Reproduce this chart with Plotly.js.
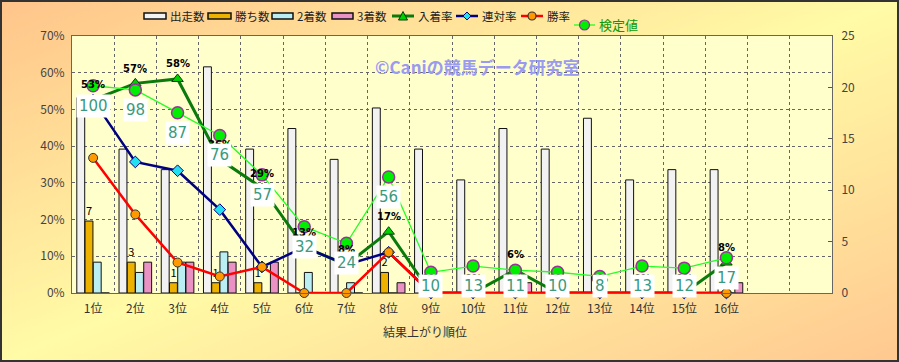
<!DOCTYPE html>
<html>
<head>
<meta charset="utf-8">
<script src="https://cdn.plot.ly/plotly-3.0.1.min.js"></script>
<style>
html,body{margin:0;padding:0;}
body{width:899px;height:362px;overflow:hidden;background:linear-gradient(to bottom right,#FFC48A 0%,#FFFBA6 50%,#FFC890 100%);}
#wrap{position:relative;width:899px;height:362px;}
#chart{position:absolute;left:0;top:0;width:899px;height:362px;}
#frame{position:absolute;left:0;top:0;width:899px;height:362px;box-sizing:border-box;border:2px solid #333;pointer-events:none;}
</style>
</head>
<body>
<div id="wrap"><div id="chart"></div><div id="frame"></div></div>
<script>
// categories
const categories = ['1位','2位','3位','4位','5位','6位','7位','8位','9位','10位','11位','12位','13位','14位','15位','16位'];
const blankCats = [' ', '  '];
// counts
const starts = [19,14,12,22,14,16,13,18,14,11,16,14,17,11,12,12];   // 出走数
const wins   = [7,3,1,1,1,0,0,2,0,0,0,0,0,0,0,0];                  // 勝ち数
const second = [3,2,3,4,0,2,1,0,0,0,0,0,0,0,0,0];                  // 2着数
const third  = [0,3,3,3,3,0,0,1,0,0,1,0,0,0,0,1];                  // 3着数
// rates (%)
const placeRate = [52.6,57.1,58.3,36.4,28.6,12.5,7.7,16.7,0,0,6.3,0,0,0,0,8.3]; // 入着率
const quinRate  = [52.6,35.7,33.3,22.7,7.1,12.5,7.7,11.1,0,0,0,0,0,0,0,0];      // 連対率
const winRate   = [36.8,21.4,8.3,4.5,7.1,0,0,11.1,0,0,0,0,0,0,0,0];             // 勝率
// test values
const testVal = [100,98,87,76,57,32,24,56,10,13,11,10,8,13,12,17];             // 検定値
const placeLabels = ['53%','57%','58%','36%','29%','13%','8%','17%','0%','0%','6%','0%','0%','0%','0%','8%'];
const seriesNames = ['出走数','勝ち数','2着数','3着数','入着率','連対率','勝率','検定値'];

const FONT = 'Noto Sans CJK JP, sans-serif';
const pct = a => a.map(v => v/100);

// plot area geometry (px)
const PL = 72, PR = 832, PT = 36, PB = 293;
const W = 899, H = 362;
const px2x = p => (p - PL) / (PR - PL);
const px2y = p => (PB - p) / (PB - PT);
const Y3MAX = 124;

const C = {
  starts:'#F2F2F2', wins:'#EDB200', second:'#B9EEF2', third:'#EA92C4',
  place:'#0A7A0A', placeM:'#00D000', quin:'#000080', quinM:'#22E0F0',
  win:'#FF0000', winM:'#FF9900', test:'#22FF22', testM:'#00EE00', testO:'#993399'
};

const traces = [
  {type:'bar', name:seriesNames[0], x:categories, y:starts, yaxis:'y',
   marker:{color:C.starts, line:{color:'#111', width:1}}},
  {type:'bar', name:seriesNames[1], x:categories, y:wins, yaxis:'y',
   marker:{color:C.wins, line:{color:'#111', width:1}},
   text: wins.map(v => v>0 ? String(v) : ''), textposition:'outside',
   textfont:{size:11, color:'#000', family:FONT}, cliponaxis:false},
  {type:'bar', name:seriesNames[2], x:categories, y:second, yaxis:'y',
   marker:{color:C.second, line:{color:'#111', width:1}}},
  {type:'bar', name:seriesNames[3], x:categories, y:third, yaxis:'y',
   marker:{color:C.third, line:{color:'#111', width:1}}},
  {type:'scatter', mode:'lines+markers', name:seriesNames[4], x:categories, y:pct(placeRate), yaxis:'y2',
   line:{color:C.place, width:3},
   marker:{symbol:'triangle-up', size:10, color:C.placeM, line:{color:'#064006', width:1}}, cliponaxis:false},
  {type:'scatter', mode:'lines+markers', name:seriesNames[5], x:categories, y:pct(quinRate), yaxis:'y2',
   line:{color:C.quin, width:2.5},
   marker:{symbol:'diamond', size:9, color:C.quinM, line:{color:C.quin, width:1}}, cliponaxis:false},
  {type:'scatter', mode:'lines+markers', name:seriesNames[6], x:categories, y:pct(winRate), yaxis:'y2',
   line:{color:C.win, width:2.5},
   marker:{symbol:'circle', size:9, color:C.winM, line:{color:'#333', width:1}}, cliponaxis:false},
  {type:'scatter', mode:'lines+markers', name:seriesNames[7], x:categories, y:testVal, yaxis:'y3',
   line:{color:C.test, width:1.3},
   marker:{symbol:'circle', size:12, color:C.testM, line:{color:C.testO, width:1.5}}, cliponaxis:false}
];

const annotations = [];
const shapes = [];
categories.forEach((c,i) => {
  annotations.push({x:c, y:placeRate[i]/100, xref:'x', yref:'y2', text:'<b>'+placeLabels[i]+'</b>',
    showarrow:false, yshift:15, font:{size:10, color:'#000', family:'DejaVu Sans, sans-serif'}});
});
categories.forEach((c,i) => {
  const py = PB - testVal[i] / Y3MAX * (PB - PT);
  const shift = Math.min(20, 286 - py);
  annotations.push({x:c, y:testVal[i], xref:'x', yref:'y3', text:String(testVal[i]),
    showarrow:false, yshift:-shift, bgcolor:'#FFFFFF', borderpad:2,
    font:{size:15, color:'#3A9A7E', family:'DejaVu Sans, sans-serif'}});
});
annotations.push({x:px2x(477), y:px2y(52), xref:'paper', yref:'paper', text:'<b>©Caniの競馬データ研究室</b>',
  showarrow:false, font:{size:17, color:'#9A9AF0', family:FONT}});
annotations.push({x:px2x(425), y:px2y(331), xref:'paper', yref:'paper', yanchor:'middle', text:'結果上がり順位',
  showarrow:false, font:{size:12, color:'#333', family:FONT}});

// manual legend (positions in px)
const legendItems = [
  {kind:'bar', x0:144, x1:166, tx:168, y:16, fill:C.starts},
  {kind:'bar', x0:208, x1:231, tx:233, y:16, fill:C.wins},
  {kind:'bar', x0:272, x1:293, tx:295, y:16, fill:C.second},
  {kind:'bar', x0:332, x1:353, tx:355, y:16, fill:C.third},
  {kind:'line', x0:392, x1:414, tx:416, y:16, line:C.place, lw:3, sym:'tri', mfill:C.placeM, mline:'#064006'},
  {kind:'line', x0:456, x1:478, tx:480, y:16, line:C.quin, lw:2.5, sym:'dia', mfill:C.quinM, mline:C.quin},
  {kind:'line', x0:521, x1:543, tx:545, y:16, line:C.win, lw:2.5, sym:'circ', mfill:C.winM, mline:'#333'},
  {kind:'line', x0:574, x1:595, tx:597, y:25, line:C.test, lw:1.3, sym:'circ', mfill:C.testM, mline:C.testO, big:true, tcolor:'#0A9A0A'}
];
legendItems.forEach((it, i) => {
  if (it.kind === 'bar') {
    shapes.push({type:'rect', xref:'paper', yref:'paper', x0:px2x(it.x0), x1:px2x(it.x1),
      y0:px2y(it.y+3), y1:px2y(it.y-3), fillcolor:it.fill, line:{color:'#111', width:1.5}});
  } else {
    shapes.push({type:'line', xref:'paper', yref:'paper', x0:px2x(it.x0), x1:px2x(it.x1),
      y0:px2y(it.y), y1:px2y(it.y), line:{color:it.line, width:it.lw}});
    const cx = (it.x0 + it.x1) / 2, r = it.big ? 5 : 4;
    if (it.sym === 'circ') {
      shapes.push({type:'circle', xref:'paper', yref:'paper', x0:px2x(cx-r), x1:px2x(cx+r),
        y0:px2y(it.y+r), y1:px2y(it.y-r), fillcolor:it.mfill, line:{color:it.mline, width:1.2}});
    } else if (it.sym === 'tri') {
      const p = 'M '+px2x(cx-4.5)+','+px2y(it.y+4)+' L '+px2x(cx+4.5)+','+px2y(it.y+4)+' L '+px2x(cx)+','+px2y(it.y-4.5)+' Z';
      shapes.push({type:'path', xref:'paper', yref:'paper', path:p, fillcolor:it.mfill, line:{color:it.mline, width:1}});
    } else {
      const p = 'M '+px2x(cx-4)+','+px2y(it.y)+' L '+px2x(cx)+','+px2y(it.y-4)+' L '+px2x(cx+4)+','+px2y(it.y)+' L '+px2x(cx)+','+px2y(it.y+4)+' Z';
      shapes.push({type:'path', xref:'paper', yref:'paper', path:p, fillcolor:it.mfill, line:{color:it.mline, width:1}});
    }
  }
  annotations.push({x:px2x(it.tx), y:px2y(it.y), xref:'paper', yref:'paper', xanchor:'left', yanchor:'middle',
    text:seriesNames[i], showarrow:false, font:{size:it.tcolor ? 13 : 11.5, color:it.tcolor || '#222', family:FONT}});
});

const layout = {
  width:W, height:H,
  margin:{l:PL, r:W-PR, t:PT, b:H-PB},
  paper_bgcolor:'rgba(0,0,0,0)', plot_bgcolor:'#FFFFCC',
  font:{family:FONT, size:12, color:'#333'},
  barmode:'group', bargap:0.22, bargroupgap:0.04,
  showlegend:false,
  xaxis:{type:'category', categoryorder:'array', categoryarray:categories.concat(blankCats),
    range:[-0.5, 17.5], tickson:'boundaries', ticks:'', showgrid:true, gridcolor:'#666', griddash:'dot', gridwidth:1,
    showline:true, linecolor:'#666', linewidth:1, mirror:true, ticklabelstandoff:5, tickfont:{size:12, color:'#333'}},
  yaxis:{range:[0,25], dtick:5, side:'right', showgrid:false, ticks:'inside', ticklen:4, tickcolor:'#555',
    showline:true, linecolor:'#666', zeroline:false, ticklabelstandoff:6, tickfont:{size:12, color:'#444'}},
  yaxis2:{range:[0,0.7], dtick:0.1, tickformat:'.0%', overlaying:'y', side:'left', showgrid:true,
    gridcolor:'#666', griddash:'dot', gridwidth:1, zeroline:false, showline:true, linecolor:'#666',
    ticks:'', ticklabelstandoff:4, tickfont:{size:12, color:'#444'}},
  yaxis3:{range:[0,Y3MAX], overlaying:'y', visible:false, showgrid:false},
  annotations:annotations,
  shapes:shapes
};

Plotly.newPlot('chart', traces, layout, {displayModeBar:false, staticPlot:true});
</script>
</body>
</html>
